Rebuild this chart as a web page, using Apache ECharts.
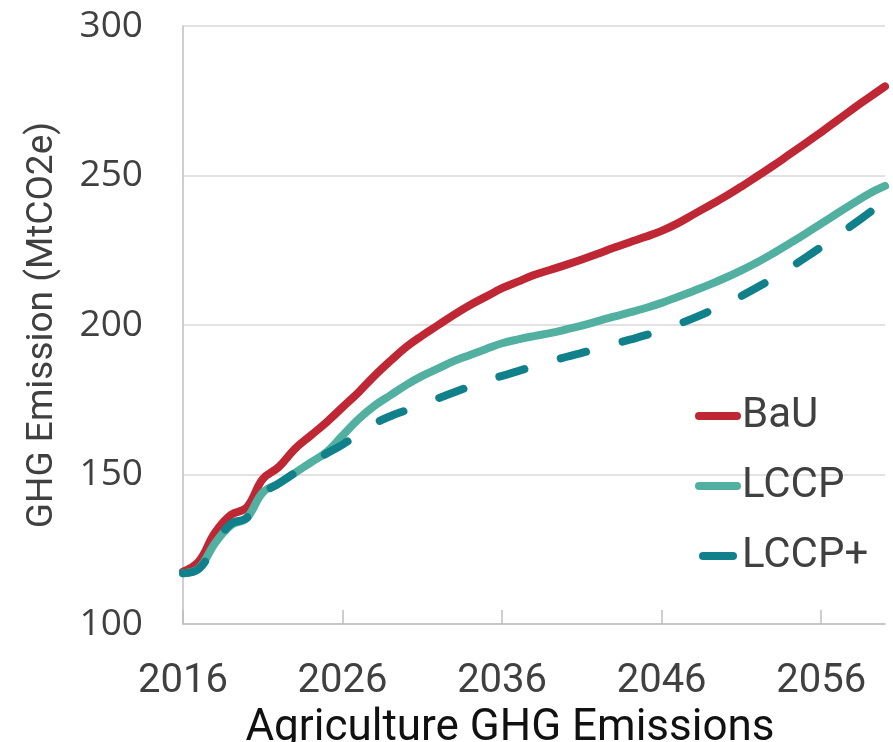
<!DOCTYPE html>
<html>
<head>
<meta charset="utf-8">
<script src="https://cdn.jsdelivr.net/npm/echarts@6/dist/echarts.min.js"></script>
<style>
  html, body { margin: 0; padding: 0; background: #fff; }
  #chart { width: 893px; height: 742px; }
</style>
</head>
<body>
<div id="chart"></div>
<script>
const years = [];
for (let y = 2016; y <= 2060; y++) years.push(String(y));

const bau = [117.5, 121, 130.5, 136.5, 139, 148.5, 152.5, 158.5, 163, 167.5,
  172.5, 177.5, 183, 188, 192.7, 196.5, 200, 203.5, 206.7, 209.5,
  212.3, 214.5, 216.7, 218.4, 220.1, 221.9, 223.8, 225.8, 227.7, 229.5,
  231.5, 234, 237, 240, 243, 246.3, 249.8, 253.3, 257, 260.7,
  264.5, 268.4, 272.3, 276.1, 279.8];

const lccp = [117, 118.7, 127, 133, 135.5, 144, 147, 150.5, 154, 157.5,
  163, 168.5, 173, 176.5, 180, 183, 185.5, 188, 190, 192,
  193.9, 195.2, 196.3, 197.3, 198.5, 199.8, 201.3, 202.8, 204.2, 205.7,
  207.4, 209.4, 211.4, 213.5, 215.8, 218.3, 221, 224, 227.2, 230.5,
  233.9, 237.3, 240.7, 243.9, 246.5];

const lccpPlus = [117, 118.5, 126.5, 133.5, 135.5, 143.5, 147, 150.5, 154, 157,
  160, 163.5, 167, 169.5, 171.5, 173.5, 175.5, 177.5, 179.5, 181.5,
  183, 184.6, 186.2, 187.8, 189.3, 190.7, 192.1, 193.6, 195.1, 196.6,
  198.3, 200.2, 202.3, 204.6, 207, 209.7, 212.6, 215.7, 219, 222.5,
  226.1, 229.8, 233.6, 237.5, 241.5];

const textFont = "'Liberation Sans Narrow', Roboto, sans-serif";

// legend glyphs: rounded bar, and a shorter rounded dash (kept to aspect, so it sits centred)
const barIcon = 'path://M4,0 L42,0 A4,4 0 0 1 42,8 L4,8 A4,4 0 0 1 4,0 Z';
const dashIcon = 'path://M4,0 L34,0 A4,4 0 0 1 34,8 L4,8 A4,4 0 0 1 4,0 Z';

const makeLine = (name, data, color, type) => ({
  name,
  type: 'line',
  data,
  smooth: 0.4,
  symbol: 'none',
  lineStyle: { color, width: 8, type, cap: 'round', join: 'round' },
  itemStyle: { color }
});

const chart = echarts.init(document.getElementById('chart'), null, { renderer: 'canvas' });

chart.setOption({
  animation: false,
  grid: { left: 183, right: 8, top: 26, bottom: 118, containLabel: false, outerBoundsMode: 'none' },
  legend: {
    orient: 'vertical',
    left: 690,
    top: 390,
    itemWidth: 46,
    itemHeight: 8,
    itemGap: 28,
    symbolKeepAspect: true,
    itemStyle: { borderWidth: 0 },
    textStyle: { fontFamily: textFont, fontSize: 42, color: '#404040', padding: [0, 0, 0, -4] },
    data: [
      { name: 'BaU', icon: barIcon },
      { name: 'LCCP', icon: barIcon },
      { name: 'LCCP+', icon: dashIcon }
    ]
  },
  xAxis: {
    type: 'category',
    data: years,
    boundaryGap: false,
    name: 'Agriculture GHG Emissions',
    nameLocation: 'middle',
    nameGap: 73,
    nameTextStyle: { fontFamily: textFont, fontSize: 44, color: '#111', padding: [0, 48, 0, 0] },
    axisLine: { lineStyle: { color: '#bfbfbf', width: 1.5 } },
    axisTick: { show: true, inside: true, length: 14, interval: 9, alignWithLabel: true, lineStyle: { color: '#bfbfbf', width: 1.5 } },
    axisLabel: { interval: 9, margin: 38, fontFamily: textFont, fontSize: 40, color: '#404040' },
    splitLine: { show: false }
  },
  yAxis: {
    type: 'value',
    min: 100,
    max: 300,
    interval: 50,
    name: 'GHG Emission (MtCO2e)',
    nameLocation: 'middle',
    nameGap: 122,
    nameTextStyle: { fontFamily: textFont, fontSize: 37, color: '#404040' },
    axisLine: { show: true, lineStyle: { color: '#bfbfbf', width: 1.5 } },
    axisTick: { show: false },
    axisLabel: { margin: 40, fontFamily: "'Open Sans', sans-serif", fontSize: 37, color: '#404040' },
    splitLine: { lineStyle: { color: '#d9d9d9', width: 1.5 } }
  },
  series: [
    makeLine('BaU', bau, '#be2733', 'solid'),
    makeLine('LCCP', lccp, '#52b0a0', 'solid'),
    makeLine('LCCP+', lccpPlus, '#10808a', [26, 38])
  ]
});
</script>
</body>
</html>
